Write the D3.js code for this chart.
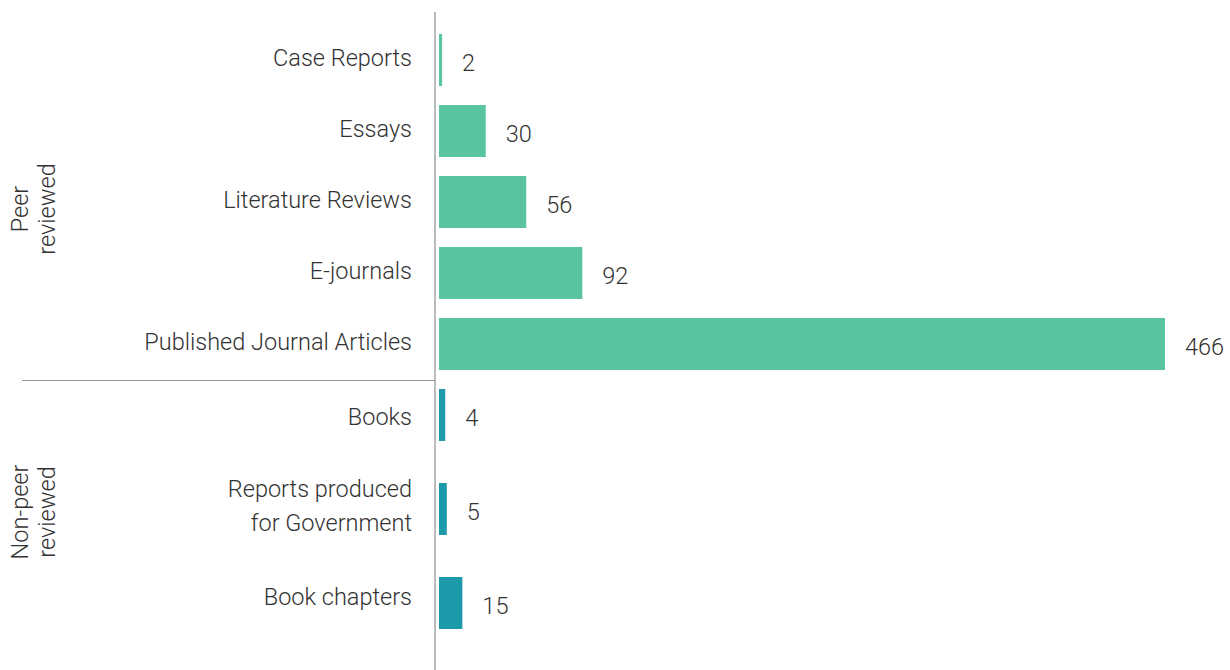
<!DOCTYPE html>
<html>
<head>
<meta charset="utf-8">
<script src="https://cdn.jsdelivr.net/npm/d3@7"></script>
<style>
  body { margin: 0; background: #fff; }
  text { font-family: "Roboto", "Liberation Sans", sans-serif; font-weight: 300; fill: #333; }
</style>
</head>
<body>
<div id="chart"></div>
<script>
// data
const peerLabels = ["Case Reports", "Essays", "Literature Reviews", "E-journals", "Published Journal Articles"];
const peerValues = [2, 30, 56, 92, 466];
const nonPeerLabels = [["Books"], ["Reports produced", "for Government"], ["Book chapters"]];
const nonPeerValues = [4, 5, 15];
const groupLabels = [["Peer", "reviewed"], ["Non-peer", "reviewed"]];

const width = 1230, height = 670;
const axisX = 435;
const barH = 52;
const fs = "23.5px";

const svg = d3.select("#chart").append("svg")
    .attr("width", width)
    .attr("height", height);

let x = d3.scaleLinear().domain([0, 466]).range([axisX + 4, 1165]);
let yPeer = d3.scalePoint().domain(d3.range(peerValues.length)).range([60, 344]);
let yNon = d3.scalePoint().domain(d3.range(nonPeerValues.length)).range([415, 603]);

function drawGroup(labels, values, y, color, labShift) {
    let g = svg.append("g");
    g.selectAll("rect").data(values).enter().append("rect")
        .attr("x", x(0))
        .attr("y", (d, i) => y(i) - barH / 2)
        .attr("width", d => x(d) - x(0))
        .attr("height", barH)
        .attr("fill", color);

    g.selectAll(".val").data(values).enter().append("text")
        .attr("class", "val")
        .attr("x", d => x(d) + 20)
        .attr("y", (d, i) => y(i) + 3)
        .attr("dy", "0.35em")
        .style("font-size", fs)
        .text(d => d);

    let lab = g.selectAll(".lab").data(labels).enter().append("text")
        .attr("class", "lab")
        .attr("text-anchor", "end")
        .style("font-size", fs)
        .attr("transform", (d, i) => "translate(412," + (y(i) + labShift[i]) + ")");
    lab.each(function (d) {
        let lines = Array.isArray(d) ? d : [d];
        let t = d3.select(this);
        lines.forEach((l, j) => {
            t.append("tspan")
                .attr("x", 0)
                .attr("y", (j - (lines.length - 1) / 2) * 34)
                .attr("dy", "0.35em")
                .text(l);
        });
    });
}

drawGroup(peerLabels, peerValues, yPeer, "#5ac3a1", [-2, -2, -2, -2, -2]);
drawGroup(nonPeerLabels, nonPeerValues, yNon, "#1c9aa9", [2, -3, -6]);

// axis line
svg.append("line")
    .attr("x1", axisX).attr("x2", axisX)
    .attr("y1", 12).attr("y2", height)
    .attr("stroke", "#bbb").attr("stroke-width", 2);

// group separator
svg.append("line")
    .attr("x1", 22).attr("x2", axisX)
    .attr("y1", 380.5).attr("y2", 380.5)
    .attr("stroke", "#999").attr("stroke-width", 1);

// group labels
const groupCenters = [209, 512];
groupLabels.forEach((lines, i) => {
    let t = svg.append("text")
        .attr("text-anchor", "middle")
        .style("font-size", fs)
        .attr("transform", "translate(33," + groupCenters[i] + ") rotate(-90)");
    lines.forEach((l, j) => {
        t.append("tspan")
            .attr("x", 0)
            .attr("y", (j - 0.5) * 27)
            .attr("dy", "0.35em")
            .text(l);
    });
});
</script>
</body>
</html>
